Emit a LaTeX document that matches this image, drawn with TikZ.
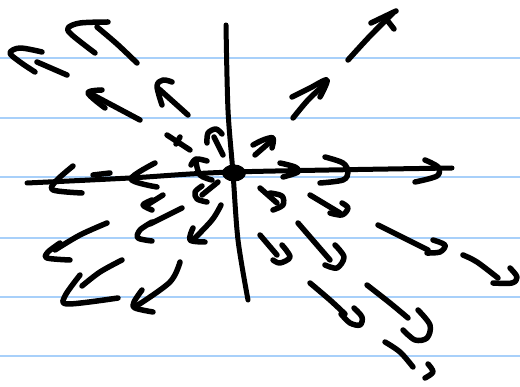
\documentclass[tikz,border=0pt]{standalone}
\usetikzlibrary{shapes.geometric}
\definecolor{ruleblue}{RGB}{168,208,250}
\tikzset{
  ink/.style={line width=5.5pt, line cap=round, line join=round, black},
  axisink/.style={line width=5pt, line cap=round, line join=round, black},
  rule/.style={line width=2pt, ruleblue},
}
\newcommand{\stroke}[1]{\draw[ink] plot[smooth, tension=0.55] coordinates {#1};}
\begin{document}
\begin{tikzpicture}[x=1pt,y=-1pt]
\fill[white] (0,0) rectangle (520,387);
\useasboundingbox (0,0) rectangle (520,387);
% ruled paper
\foreach \yy in {58,118,177,238,297,356} \draw[rule] (0,\yy) -- (520,\yy);
% axes
\draw[axisink] plot[smooth, tension=0.5] coordinates {(27,183) (130,178) (233,172) (452,168)};
\draw[axisink] plot[smooth, tension=0.5] coordinates {(226,25) (228,110) (233,173) (238,240) (248,300)};
\node[draw=none, fill=black, ellipse, minimum width=24pt, minimum height=17pt, inner sep=0pt] (eq) at (234,173) {};
% upper-left arrows
\stroke{(42,52) (20,48) (10,53) (20,62) (35,72)}
\stroke{(37,62) (67,75)}
\stroke{(95,53) (72,35) (68,28) (80,23) (108,22)}
\stroke{(97,27) (117,44) (137,63)}
\stroke{(102,90) (88,93) (105,108)}
\stroke{(93,95) (140,120)}
\stroke{(162,105) (157,86) (163,80) (172,82)}
\stroke{(159,89) (188,115)}
\stroke{(167,135) (190,150)}
\stroke{(176,144) (180,137)}
\stroke{(207,143) (208,133) (216,129) (222,134)}
\stroke{(214,137) (223,155)}
\stroke{(191,165) (196,159) (207,161)}
\stroke{(196,162) (200,175) (212,180)}
% left axis heads
\stroke{(73,166) (56,181) (53,190) (82,193)}
\stroke{(93,175) (110,173)}
\stroke{(155,163) (131,179) (157,187)}
% right axis heads
\stroke{(280,163) (295,167) (298,172) (283,177)}
\stroke{(325,157) (343,163) (348,172) (343,180) (320,183)}
\stroke{(425,160) (438,167) (437,176) (415,182)}
% upper-right arrows
\stroke{(253,145) (263,140) (273,138) (272,148)}
\stroke{(255,155) (270,142)}
\stroke{(292,97) (310,88) (327,80) (320,97)}
\stroke{(293,118) (308,100) (324,85)}
\stroke{(371,23) (396,11)}
\stroke{(387,20) (394,29)}
\stroke{(348,60) (370,36) (393,13)}
% lower-left arrows
\stroke{(202,186) (195,192) (197,199) (207,202)}
\stroke{(218,182) (202,195)}
\stroke{(152,200) (143,205) (152,210)}
\stroke{(163,195) (147,205)}
\stroke{(152,222) (140,230) (138,238) (152,241)}
\stroke{(182,208) (150,224)}
\stroke{(193,228) (190,240) (205,242)}
\stroke{(221,205) (212,220) (193,240)}
\stroke{(142,290) (134,302) (135,308) (153,312)}
\stroke{(180,262) (170,282) (138,305)}
\stroke{(60,243) (48,252) (47,258) (70,260)}
\stroke{(107,223) (80,235) (55,250)}
\stroke{(80,275) (65,296) (68,304) (118,298)}
\stroke{(122,260) (100,272) (82,286)}
% lower-right arrows
\stroke{(260,188) (277,203)}
\stroke{(270,193) (282,196) (283,205) (273,210)}
\stroke{(310,195) (340,213)}
\stroke{(342,203) (348,208) (342,215) (330,213)}
\stroke{(260,235) (277,255)}
\stroke{(282,245) (290,257) (280,263) (273,260)}
\stroke{(298,223) (330,260)}
\stroke{(335,245) (344,257) (337,268) (325,265)}
\stroke{(378,225) (428,250)}
\stroke{(433,240) (445,245) (440,252) (427,253)}
\stroke{(463,255) (477,262) (498,278)}
\stroke{(510,268) (517,277) (512,283) (493,283)}
\stroke{(310,283) (330,300) (345,314)}
\stroke{(354,308) (362,317) (360,325) (350,323) (341,314)}
\stroke{(367,285) (390,303) (408,318)}
\stroke{(418,310) (430,325) (427,338) (415,340) (403,330)}
\stroke{(385,342) (400,352) (413,367)}
\stroke{(428,364) (433,372) (425,378)}
\end{tikzpicture}
\end{document}
